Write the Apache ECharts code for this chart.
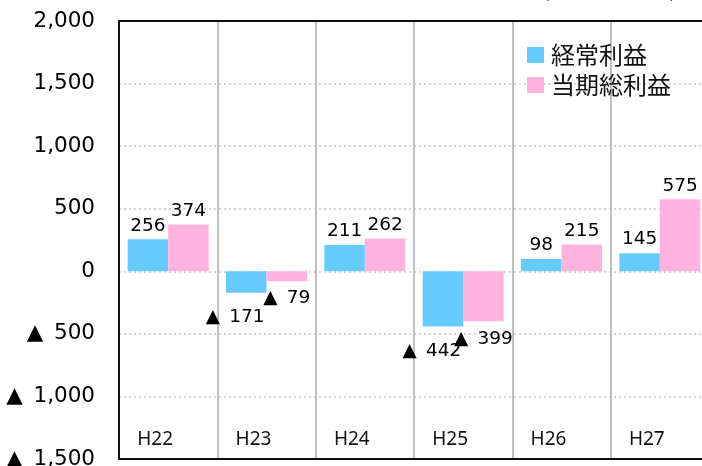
<!DOCTYPE html>
<html>
<head>
<meta charset="utf-8">
<script src="https://cdn.jsdelivr.net/npm/echarts@6/dist/echarts.min.js"></script>
<style>
html,body{margin:0;padding:0;background:#fff;}
#chart{width:702px;height:466px;}
</style>
</head>
<body>
<div id="chart"></div>
<script>
const categories = ['H22', 'H23', 'H24', 'H25', 'H26', 'H27'];
const ordinaryProfit = [256, -171, 211, -442, 98, 145];   // 経常利益
const netProfit = [374, -79, 262, -399, 215, 575];        // 当期総利益
const seriesNames = ['経常利益', '当期総利益'];
const unitText = '(単位：百万円)';
const yMin = -1500, yMax = 2000, yStep = 500;

function fmt(v) {
  const a = Math.abs(v).toLocaleString('en-US');
  return v < 0 ? '▲\u2002' + a : a;
}

function buildData(values, negOffset) {
  return values.map(v => v < 0
    ? { value: v, label: { position: 'bottom', offset: negOffset } }
    : { value: v });
}

const chart = echarts.init(document.getElementById('chart'));
const labelStyle = {
  show: true,
  position: 'top',
  distance: 4,
  fontFamily: 'DejaVu Sans',
  fontSize: 18.5,
  color: '#000',
  formatter: p => fmt(p.value)
};

chart.setOption({
  animation: false,
  backgroundColor: '#fff',
  grid: { left: 119, top: 21, width: 590, bottom: 7, containLabel: false, outerBoundsMode: 'none' },
  legend: {
    orient: 'vertical',
    left: 527,
    top: 43,
    padding: 0,
    itemWidth: 17,
    itemHeight: 16,
    itemGap: 6,
    icon: 'rect',
    textStyle: { fontFamily: 'Noto Sans CJK JP', fontSize: 24, color: '#111', padding: [0, 0, 0, 2] },
    data: seriesNames
  },
  graphic: [{
    type: 'text',
    left: 543,
    top: -21,
    style: { text: unitText, fontFamily: 'Noto Sans CJK JP', fontSize: 20, fill: '#111' }
  }],
  xAxis: [{
    type: 'category',
    data: categories,
    position: 'bottom',
    axisLine: { show: true, onZero: false, lineStyle: { color: '#111', width: 2 } },
    axisTick: { show: false },
    axisLabel: {
      inside: true,
      margin: 10,
      fontFamily: 'Noto Sans',
      fontSize: 19,
      color: '#111',
      padding: [0, 26, 0, 0]
    },
    splitLine: { show: true, lineStyle: { color: '#c0c0c0', width: 2 } }
  }, {
    type: 'category',
    data: categories,
    position: 'top',
    axisLine: { show: true, onZero: false, lineStyle: { color: '#111', width: 2 } },
    axisTick: { show: false },
    axisLabel: { show: false },
    splitLine: { show: false }
  }],
  yAxis: {
    type: 'value',
    min: yMin,
    max: yMax,
    interval: yStep,
    axisLine: { show: true, lineStyle: { color: '#111', width: 2 } },
    axisTick: { show: false },
    axisLabel: {
      margin: 24,
      fontFamily: 'DejaVu Sans',
      fontSize: 21.5,
      color: '#000',
      formatter: v => fmt(v)
    },
    splitLine: { show: true, lineStyle: { color: '#c8c8c8', width: 1.5, type: [2, 3] } }
  },
  series: [{
    name: seriesNames[0],
    type: 'bar',
    barWidth: 40.5,
    barGap: '0%',
    itemStyle: { color: '#66CCFF' },
    label: labelStyle,
    data: buildData(ordinaryProfit, [-11, 11])
  }, {
    name: seriesNames[1],
    type: 'bar',
    barWidth: 40.5,
    barGap: '0%',
    itemStyle: { color: '#FFB3DE' },
    label: labelStyle,
    data: buildData(netProfit, [0, 4])
  }]
});
</script>
</body>
</html>
